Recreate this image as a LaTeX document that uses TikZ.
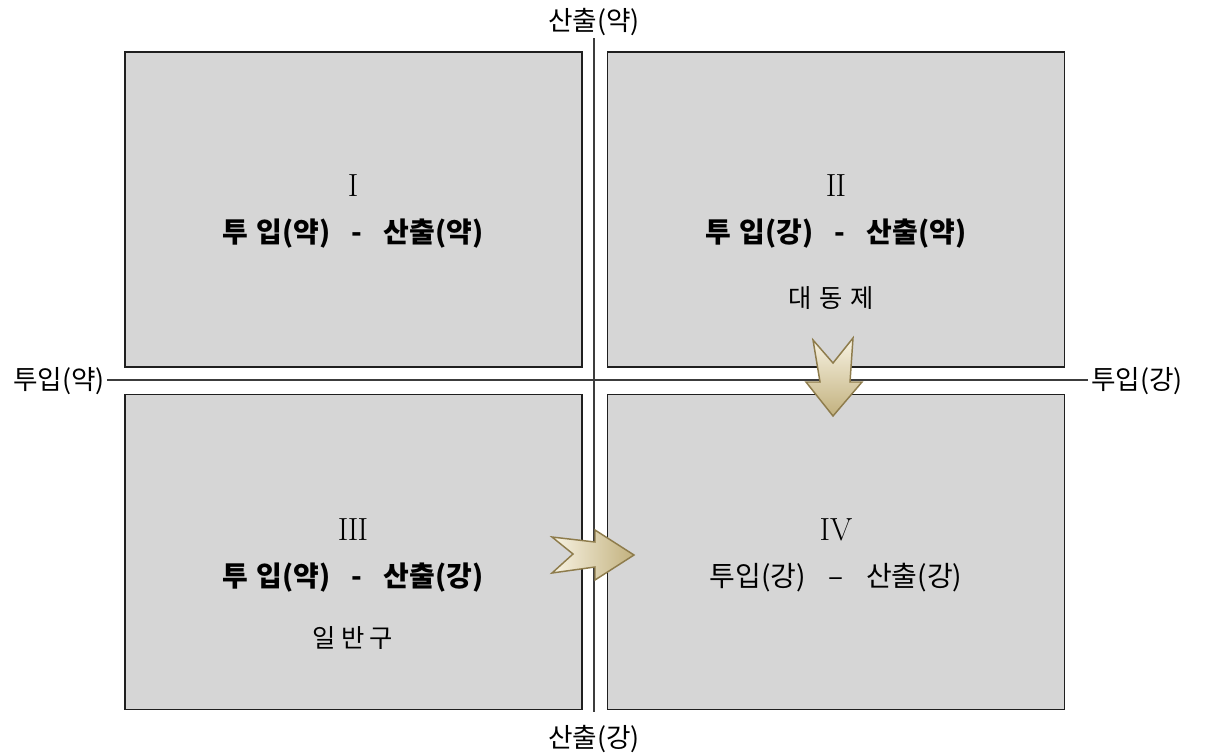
\documentclass[tikz,border=0pt]{standalone}
\usepackage{fontspec}
\newfontfamily\kr{Noto Sans CJK KR}
\definecolor{boxgray}{HTML}{D6D6D6}
\definecolor{axisgray}{HTML}{3C3C3C}
\definecolor{arrlight}{HTML}{F8F3E3}
\definecolor{arrdark}{HTML}{C2B17E}
\definecolor{arredge}{HTML}{8E7C4C}
\begin{document}
\begin{tikzpicture}[x=0.75pt,y=-0.75pt,
  quad/.style={draw=black!88, line width=1.3pt, fill=boxgray, minimum width=342.75pt, minimum height=236.25pt, inner sep=0pt},
  axislab/.style={font=\kr\fontsize{20}{24}\selectfont, inner sep=0pt},
  numeral/.style={font=\fontsize{24}{28}\selectfont, inner sep=0pt},
  mainlab/.style={font=\kr\bfseries\fontsize{21}{24}\selectfont, inner sep=0pt},
  plainlab/.style={font=\kr\fontsize{21}{24}\selectfont, inner sep=0pt},
  sublab/.style={font=\kr\fontsize{19}{22}\selectfont, inner sep=0pt},
  axisline/.style={draw=axisgray, line width=1.1pt},
  fatarrow/.style={draw=arredge, line width=1.1pt, line join=miter}
]
\useasboundingbox (0,0) rectangle (1205,753);
% quadrants
\node[quad] (q1) at (353.5,209.5) {};
\node[quad] (q2) at (836,209.5) {};
\node[quad] (q3) at (353.5,552) {};
\node[quad] (q4) at (836,552) {};
% axes
\coordinate (vtop) at (594,38);
\coordinate (vbot) at (594,712);
\coordinate (hleft) at (107,380);
\coordinate (hright) at (1088,380);
\draw[axisline] (vtop) -- (vbot);
\draw[axisline] (hleft) -- (hright);
\node[axislab] (ot) at (594,22) {산출(약)};
\node[axislab] (ob) at (594,739) {산출(강)};
\node[axislab, anchor=east] (il) at (105,381) {투입(약)};
\node[axislab, anchor=west] (ir) at (1091,381) {투입(강)};
% quadrant texts
\node[numeral] (n1) at (353,186) {I};
\node[mainlab] (t1) at (353,234) {투\hspace{6pt}입(약)\hspace{16pt}-\hspace{16pt}산출(약)};
\node[numeral] (n2) at (836,186) {I\kern-0.5pt I};
\node[mainlab] (t2) at (836,234) {투\hspace{6pt}입(강)\hspace{16pt}-\hspace{16pt}산출(약)};
\node[sublab] (s2) at (831,298) {대\hspace{6pt}동\hspace{6pt}제};
\node[numeral] (n3) at (353,530) {I\kern-0.5pt I\kern-0.5pt I};
\node[mainlab] (t3) at (353,578) {투\hspace{6pt}입(약)\hspace{16pt}-\hspace{16pt}산출(강)};
\node[sublab] (s3) at (353,638) {일\hspace{4pt}반\hspace{4pt}구};
\node[numeral] (n4) at (836,530) {IV};
\node[plainlab] (t4) at (836,578) {투입(강)\hspace{17pt}–\hspace{17pt}산출(강)};
% arrows
\draw[fatarrow, left color=arrlight, right color=arrdark]
  (552,537) -- (595,542) -- (595,530) -- (634,555) -- (595,580) -- (595,567) -- (552,573) -- (573,554) -- cycle;
\draw[fatarrow, top color=arrlight, bottom color=arrdark]
  (813,340) -- (833,363) -- (853,338) -- (850,382) -- (862,382) -- (833,416) -- (806,382) -- (820,382) -- cycle;
\end{tikzpicture}
\end{document}
